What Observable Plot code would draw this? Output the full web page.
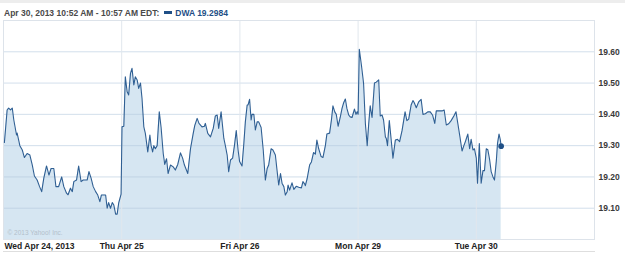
<!DOCTYPE html>
<html>
<head>
<meta charset="utf-8">
<script src="https://cdn.jsdelivr.net/npm/d3@7"></script>
<script src="https://cdn.jsdelivr.net/npm/@observablehq/plot@0.6"></script>
<style>
  html, body { margin: 0; padding: 0; background: #fff; }
  #wrap { position: relative; width: 625px; height: 255px; overflow: hidden; font-family: "Liberation Sans", Arial, sans-serif; }
  #topstrip { position: absolute; left: 0; top: 0; width: 625px; height: 3px; background: #ededed; }
  #header { position: absolute; left: 4px; top: 8px; font-size: 8.5px; font-weight: bold; color: #4a4a4a; white-space: nowrap; }
  #header .sw { display: inline-block; width: 8px; height: 3px; background: #1f4f86; vertical-align: middle; margin: 0 3px 0 5px; position: relative; top: -1px; }
  #header .ser { color: #1f4f86; }
  #chart { position: absolute; left: 0; top: 20px; }
  #bottomline { position: absolute; left: 3px; top: 251px; width: 592px; height: 1px; background: #dedede; }
</style>
</head>
<body>
<div id="wrap">
  <div id="topstrip"></div>
  <div id="header">Apr 30, 2013 10:52 AM - 10:57 AM EDT:<span class="sw"></span><span class="ser">DWA 19.2984</span></div>
  <div id="chart"></div>
  <div id="bottomline"></div>
</div>
<script>
// Trading days shown on the x axis
const dayLabels = ["Wed Apr 24, 2013", "Thu Apr 25", "Fri Apr 26", "Mon Apr 29", "Tue Apr 30"];
const yTicks = [19.10, 19.20, 19.30, 19.40, 19.50, 19.60];
const sessionMinutes = 390;

// [minutes since 9:30 open, price]
const wed24 = [[3,19.31],[12,19.414],[17,19.42],[23,19.414],[29,19.42],[34,19.382],[43,19.334],[45,19.34],[54,19.30],[62,19.286],[69,19.262],[78,19.275],[87,19.27],[95,19.238],[102,19.203],[111,19.19],[119,19.169],[126,19.153],[133,19.196],[142,19.235],[150,19.206],[157,19.227],[166,19.227],[173,19.169],[182,19.169],[192,19.20],[199,19.169],[208,19.148],[213,19.143],[221,19.164],[227,19.153],[232,19.185],[241,19.19],[248,19.235],[256,19.185],[263,19.19],[271,19.19],[276,19.19],[282,19.217],[289,19.196],[296,19.169],[304,19.153],[311,19.142],[318,19.121],[323,19.142],[333,19.142],[337,19.142],[342,19.10],[347,19.118],[353,19.10],[359,19.118],[364,19.11],[370,19.081],[375,19.081],[380,19.116],[388,19.145]];
const thu25 = [[1,19.36],[7,19.362],[12,19.52],[18,19.472],[23,19.462],[29,19.531],[34,19.547],[40,19.494],[45,19.52],[51,19.51],[56,19.483],[62,19.50],[67,19.451],[73,19.36],[78,19.339],[86,19.28],[93,19.334],[97,19.30],[102,19.28],[106,19.30],[111,19.29],[117,19.30],[124,19.408],[130,19.358],[137,19.275],[142,19.24],[148,19.258],[153,19.211],[161,19.238],[170,19.232],[177,19.222],[185,19.24],[194,19.277],[201,19.26],[207,19.238],[218,19.211],[227,19.29],[236,19.339],[241,19.364],[249,19.387],[255,19.371],[265,19.36],[273,19.362],[276,19.371],[284,19.339],[293,19.328],[302,19.355],[309,19.395],[315,19.398],[320,19.355],[328,19.408],[337,19.323],[342,19.30],[348,19.27],[353,19.217],[359,19.254],[366,19.26],[372,19.30],[378,19.348],[384,19.286],[389,19.249]];
const fri26 = [[7,19.235],[13,19.307],[18,19.376],[24,19.43],[27,19.43],[32,19.448],[37,19.382],[40,19.40],[46,19.40],[51,19.35],[57,19.376],[62,19.376],[70,19.358],[77,19.286],[84,19.19],[90,19.227],[95,19.238],[103,19.29],[109,19.286],[117,19.27],[123,19.217],[128,19.174],[134,19.211],[139,19.18],[145,19.169],[150,19.142],[156,19.153],[159,19.174],[164,19.158],[172,19.181],[178,19.16],[186,19.17],[194,19.167],[203,19.165],[208,19.185],[214,19.177],[216,19.172],[222,19.195],[230,19.238],[236,19.248],[243,19.278],[249,19.273],[254,19.318],[260,19.29],[268,19.265],[274,19.262],[282,19.30],[287,19.337],[296,19.34],[302,19.382],[307,19.427],[313,19.408],[318,19.40],[324,19.362],[331,19.39],[337,19.419],[342,19.436],[348,19.449],[353,19.419],[359,19.398],[364,19.392],[370,19.39],[378,19.417],[383,19.40],[387,19.408],[390,19.40]];
const mon29 = [[4,19.608],[11,19.557],[18,19.50],[24,19.371],[30,19.30],[35,19.37],[40,19.427],[46,19.39],[54,19.50],[60,19.503],[68,19.51],[73,19.395],[79,19.398],[84,19.382],[90,19.328],[93,19.323],[97,19.30],[103,19.38],[109,19.32],[115,19.26],[123,19.318],[130,19.32],[137,19.313],[145,19.348],[155,19.408],[161,19.38],[167,19.385],[175,19.43],[181,19.444],[185,19.438],[192,19.421],[200,19.44],[208,19.448],[214,19.40],[222,19.402],[230,19.408],[238,19.408],[246,19.397],[253,19.371],[258,19.411],[266,19.411],[277,19.411],[284,19.414],[291,19.366],[299,19.37],[307,19.38],[316,19.395],[323,19.408],[329,19.371],[336,19.328],[343,19.283],[349,19.30],[354,19.313],[362,19.337],[368,19.29],[373,19.32],[379,19.286],[384,19.29],[388,19.27],[390,19.26]];
const tue30 = [[4,19.18],[10,19.307],[16,19.18],[22,19.22],[27,19.22],[33,19.29],[38,19.287],[44,19.255],[49,19.217],[55,19.20],[60,19.19],[66,19.25],[70,19.307],[75,19.337],[79,19.32],[82,19.2984]];

const days = [wed24, thu25, fri26, mon29, tue30];
const data = days.flatMap((arr, d) => arr.map(([m, p]) => ({t: d * sessionMinutes + m, p})));
const last = [data[data.length - 1]];
const dayStarts = dayLabels.map((_, i) => i * sessionMinutes);

const plot = Plot.plot({
  width: 625,
  height: 235,
  marginTop: 0,
  marginBottom: 16,
  marginLeft: 3,
  marginRight: 31,
  style: {fontFamily: "Liberation Sans, Arial, sans-serif", fontSize: "8.5px", fontWeight: "bold", color: "#3a3a3a", background: "transparent"},
  x: {domain: [0, 5 * sessionMinutes], axis: null},
  y: {domain: [19.0, 19.7], axis: null},
  marks: [
    Plot.areaY(data, {x: "t", y1: 19.0, y2: "p", fill: "#d6e6f2"}),
    Plot.ruleY(yTicks, {stroke: "#b4c9dd", strokeOpacity: 0.6}),
    Plot.ruleX(dayStarts.slice(1), {stroke: "#e1e7ed"}),
    Plot.frame({stroke: "#dde3ea"}),
    Plot.line(data, {x: "t", y: "p", stroke: "#2f5f93", strokeWidth: 1.1}),
    Plot.dot(last, {x: "t", y: "p", r: 2.8, fill: "#1f4f86", stroke: "none"}),
    Plot.axisY(yTicks, {anchor: "right", label: null, tickSize: 0, tickPadding: 4, tickFormat: d3.format(".2f"), fill: "#3a3a3a", fontWeight: "bold"}),
    Plot.text([dayLabels[0]], {x: [0], frameAnchor: "bottom", dy: 9, dx: 1, textAnchor: "start", fill: "#222"}),
    Plot.text(dayLabels.slice(1), {x: dayStarts.slice(1), frameAnchor: "bottom", dy: 9, textAnchor: "middle", fill: "#222"}),
    Plot.text(["© 2013 Yahoo! Inc."], {frameAnchor: "bottom-left", dx: 4, dy: -5, fill: "#b3bfcb", fontSize: 6.5, fontWeight: "normal"})
  ]
});
document.getElementById("chart").appendChild(plot);
</script>
</body>
</html>
